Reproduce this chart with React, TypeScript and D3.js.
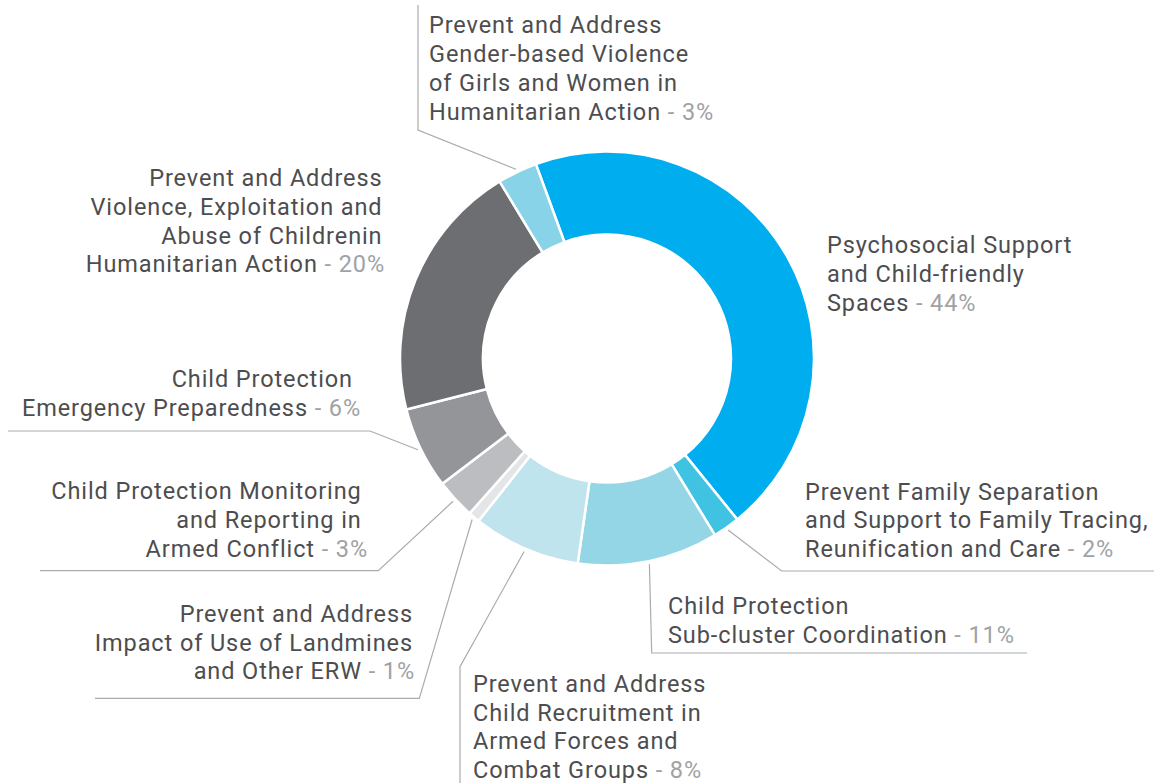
import React from "react";
import * as d3 from "d3";

const categories = [
  "Psychosocial Support and Child-friendly Spaces",
  "Prevent Family Separation and Support to Family Tracing, Reunification and Care",
  "Child Protection Sub-cluster Coordination",
  "Prevent and Address Child Recruitment in Armed Forces and Combat Groups",
  "Prevent and Address Impact of Use of Landmines and Other ERW",
  "Child Protection Monitoring and Reporting in Armed Conflict",
  "Child Protection Emergency Preparedness",
  "Prevent and Address Violence, Exploitation and Abuse of Childrenin Humanitarian Action",
  "Prevent and Address Gender-based Violence of Girls and Women in Humanitarian Action",
];

// share of the ring (percent)
const shares = [44.8, 2.1, 11.0, 8.4, 0.9, 3.1, 6.4, 20.3, 3.1];

// printed percentages
const pctLabels = ["44%", "2%", "11%", "8%", "1%", "3%", "6%", "20%", "3%"];

const labelLines = [
  ["Psychosocial Support", "and Child-friendly", "Spaces"],
  ["Prevent Family Separation", "and Support to Family Tracing,", "Reunification and Care"],
  ["Child Protection", "Sub-cluster Coordination"],
  ["Prevent and Address", "Child Recruitment in", "Armed Forces and", "Combat Groups"],
  ["Prevent and Address", "Impact of Use of Landmines", "and Other ERW"],
  ["Child Protection Monitoring", "and Reporting in", "Armed Conflict"],
  ["Child Protection", "Emergency Preparedness"],
  ["Prevent and Address", "Violence, Exploitation and", "Abuse of Childrenin", "Humanitarian Action"],
  ["Prevent and Address", "Gender-based Violence", "of Girls and Women in", "Humanitarian Action"],
];

const colors = [
  "#00aeef",
  "#40c3e2",
  "#95d6e6",
  "#bfe4ed",
  "#e4e5e7",
  "#bcbdc0",
  "#939598",
  "#6d6e71",
  "#88d3e8",
];

// label layout: anchor, x, first baseline, trailing offset for non-last lines (right aligned), leader elbow & end
type Layout = {
  anchor: "start" | "end";
  x: number;
  y: number;
  trail?: number;
  elbow?: [number, number];
  end?: [number, number];
};
const layouts: Layout[] = [
  { anchor: "start", x: 827, y: 253 },
  { anchor: "start", x: 805, y: 499.5, elbow: [781.7, 571], end: [1154, 571] },
  { anchor: "start", x: 668, y: 614, elbow: [651.7, 653], end: [1027, 653] },
  { anchor: "start", x: 473, y: 691.7, elbow: [460, 666.7], end: [460, 783] },
  { anchor: "end", x: 415, y: 621.7, trail: 2, elbow: [419.3, 698.3], end: [95, 698.3] },
  { anchor: "end", x: 368, y: 499.3, trail: 6.3, elbow: [378.3, 570.7], end: [40, 570.7] },
  { anchor: "end", x: 361, y: 387.3, trail: 8, elbow: [370, 431], end: [8, 431] },
  { anchor: "end", x: 385, y: 186, trail: 2.5 },
  { anchor: "start", x: 429, y: 33.3, elbow: [418, 130], end: [418, 5] },
];

const W = 1154;
const H = 783;
const CX = 607;
const CY = 358.5;
const R = 207;
const r = 124;
const START = (-20.1 * Math.PI) / 180;
const LINE_H = 28.8;
const FONT = 23.5;

export default function App() {
  const pie = d3
    .pie<number>()
    .sort(null)
    .value((d) => d)
    .startAngle(START)
    .endAngle(START + 2 * Math.PI);
  const arcs = pie(shares);
  const arcGen = d3.arc<d3.PieArcDatum<number>>().innerRadius(r).outerRadius(R);

  return (
    <svg
      width={W}
      height={H}
      viewBox={`0 0 ${W} ${H}`}
      style={{ position: "absolute", left: 0, top: 0, background: "#fff" }}
    >
      <g transform={`translate(${CX},${CY})`}>
        {arcs.map((a, i) => (
          <path key={i} d={arcGen(a) || ""} fill={colors[i]} stroke="#fff" strokeWidth={2.5} />
        ))}
      </g>
      {arcs.map((a, i) => {
        const L = layouts[i];
        if (!L.elbow || !L.end) return null;
        const mid = (a.startAngle + a.endAngle) / 2;
        const sx = CX + (R + 3) * Math.sin(mid);
        const sy = CY - (R + 3) * Math.cos(mid);
        const line = d3.line()([
          [sx, sy],
          L.elbow,
          L.end,
        ]);
        return <path key={"l" + i} d={line || ""} fill="none" stroke="#a9abae" strokeWidth={1.2} />;
      })}
      {labelLines.map((lines, i) => {
        const L = layouts[i];
        return (
          <text
            key={"t" + i}
            textAnchor={L.anchor}
            fontFamily="Roboto, 'Open Sans', sans-serif"
            fontSize={FONT}
            letterSpacing={0.9}
            fill="#4d4d4f"
          >
            {lines.map((ln, j) => {
              const last = j === lines.length - 1;
              const x = L.anchor === "end" && !last ? L.x - (L.trail || 0) : L.x;
              return (
                <tspan key={j} x={x} y={L.y + j * LINE_H}>
                  {ln}
                  {last ? <tspan fill="#a0a2a5">{" - " + pctLabels[i]}</tspan> : null}
                </tspan>
              );
            })}
          </text>
        );
      })}
    </svg>
  );
}
